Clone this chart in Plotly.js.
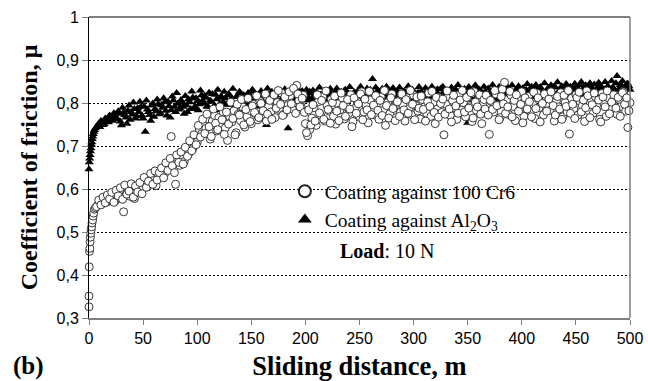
<!DOCTYPE html>
<html>
<head>
<meta charset="utf-8">
<script src="https://cdn.plot.ly/plotly-3.0.1.min.js"></script>
<style>html,body{margin:0;padding:0;background:#fff;}#chart{width:648px;height:381px;}</style>
</head>
<body>
<div id="chart"></div>
<script>
// ---- data ----
// dense readings at the start of the test (sliding distance in m, friction coefficient)
const cr6StartDist = [0, 0, 0.2, 0.5, 0.8, 1.0, 1.3, 1.6, 2.0, 2.4, 2.8, 3.3, 3.8, 4.3, 5.0];
const cr6StartMu   = [0.326, 0.351, 0.419, 0.455, 0.462, 0.477, 0.488, 0.497, 0.505, 0.512, 0.521, 0.528, 0.537, 0.544, 0.553];
const al2o3StartDist = [0, 0.3, 0.6, 1.0, 1.4, 1.8, 2.2, 2.6, 3.0, 3.5, 4.0, 4.5, 5.0];
const al2o3StartMu   = [0.646, 0.662, 0.671, 0.679, 0.688, 0.695, 0.703, 0.709, 0.716, 0.722, 0.728, 0.733, 0.737];

// regular readings: even metres 6..500 and odd metres 7..499
const evenStart = 6, oddStart = 7, gridStep = 2;
const cr6MuEven = [
 0.556,0.562,0.571,0.566,0.578,0.569,0.583,0.575,0.588,0.572,
 0.591,0.579,0.595,0.547,0.586,0.601,0.583,0.598,0.578,0.604,
 0.596,0.611,0.602,0.619,0.605,0.624,0.613,0.629,0.608,0.633,
 0.628,0.641,0.636,0.652,0.647,0.722,0.659,0.611,0.668,0.655,
 0.672,0.664,0.688,0.681,0.701,0.694,0.718,0.709,0.737,0.728,
 0.752,0.741,0.763,0.716,0.758,0.771,0.735,0.766,0.748,0.779,
 0.742,0.713,0.768,0.756,0.782,0.731,0.774,0.759,0.791,0.744,
 0.768,0.783,0.752,0.797,0.775,0.761,0.804,0.771,0.788,0.758,
 0.792,0.779,0.812,0.766,0.801,0.785,0.823,0.774,0.809,0.795,
 0.817,0.786,0.828,0.841,0.806,0.792,0.818,0.752,0.724,0.738,
 0.765,0.789,0.748,0.803,0.772,0.815,0.758,0.794,0.781,0.808,
 0.769,0.751,0.798,0.784,0.812,0.763,0.791,0.776,0.819,0.757,
 0.788,0.803,0.768,0.826,0.779,0.795,0.754,0.807,0.786,0.772,
 0.799,0.762,0.814,0.783,0.748,0.801,0.775,0.821,0.791,0.766,
 0.805,0.779,0.796,0.758,0.812,0.787,0.773,0.818,0.794,0.781,
 0.763,0.808,0.791,0.776,0.823,0.769,0.801,0.752,0.786,0.812,
 0.778,0.726,0.797,0.815,0.771,0.806,0.789,0.762,0.819,0.784,
 0.801,0.768,0.812,0.791,0.757,0.826,0.783,0.809,0.774,0.798,
 0.786,0.814,0.727,0.803,0.779,0.821,0.795,0.766,0.832,0.848,
 0.807,0.773,0.818,0.792,0.759,0.811,0.784,0.826,0.769,0.802,
 0.815,0.781,0.797,0.764,0.823,0.789,0.808,0.772,0.816,0.794,
 0.783,0.812,0.758,0.805,0.791,0.824,0.768,0.801,0.779,0.728,
 0.811,0.786,0.819,0.772,0.803,0.794,0.757,0.828,0.782,0.809,
 0.776,0.815,0.791,0.762,0.822,0.798,0.769,0.812,0.785,0.804,
 0.818,0.774,0.808,0.792,0.826,0.781,0.743,0.801
];
const cr6MuOdd = [
 0.559,0.574,0.563,0.581,0.568,0.586,0.577,0.592,0.569,0.597,
 0.584,0.603,0.576,0.609,0.588,0.595,0.612,0.581,0.607,0.593,
 0.615,0.589,0.627,0.604,0.618,0.636,0.611,0.642,0.621,0.638,
 0.649,0.626,0.661,0.643,0.671,0.654,0.638,0.679,0.662,0.686,
 0.658,0.697,0.676,0.712,0.689,0.726,0.703,0.748,0.721,0.762,
 0.729,0.774,0.745,0.722,0.786,0.753,0.738,0.791,0.761,0.727,
 0.779,0.751,0.802,0.764,0.726,0.797,0.772,0.808,0.749,0.785,
 0.811,0.757,0.793,0.778,0.817,0.766,0.799,0.782,0.821,0.774,
 0.806,0.762,0.819,0.788,0.829,0.797,0.771,0.814,0.784,0.826,
 0.798,0.834,0.776,0.821,0.791,0.811,0.778,0.731,0.784,0.749,
 0.796,0.758,0.819,0.777,0.806,0.762,0.828,0.785,0.753,0.801,
 0.816,0.781,0.759,0.823,0.794,0.769,0.808,0.786,0.745,0.812,
 0.776,0.798,0.821,0.761,0.809,0.784,0.827,0.773,0.795,0.817,
 0.783,0.806,0.771,0.829,0.794,0.765,0.812,0.787,0.759,0.803,
 0.769,0.821,0.784,0.808,0.776,0.829,0.797,0.761,0.814,0.788,
 0.816,0.785,0.758,0.803,0.792,0.827,0.778,0.813,0.767,0.799,
 0.809,0.774,0.828,0.786,0.756,0.818,0.793,0.776,0.807,0.829,
 0.779,0.813,0.788,0.824,0.765,0.802,0.791,0.819,0.752,0.808,
 0.818,0.772,0.806,0.785,0.829,0.794,0.761,0.815,0.798,0.776,
 0.791,0.827,0.768,0.806,0.819,0.781,0.797,0.754,0.812,0.786,
 0.803,0.768,0.825,0.787,0.812,0.756,0.799,0.821,0.781,0.809,
 0.826,0.794,0.772,0.815,0.786,0.762,0.818,0.792,0.829,0.776,
 0.797,0.764,0.813,0.825,0.779,0.807,0.789,0.817,0.766,0.796,
 0.823,0.784,0.807,0.756,0.814,0.791,0.828,0.775,0.802,0.819,
 0.788,0.813,0.769,0.824,0.797,0.812,0.782
];
const al2o3MuEven = [
 0.741,0.748,0.744,0.756,0.751,0.762,0.755,0.768,0.759,0.771,
 0.763,0.775,0.748,0.778,0.766,0.782,0.761,0.773,0.786,0.769,
 0.779,0.791,0.764,0.733,0.785,0.772,0.794,0.768,0.781,0.797,
 0.776,0.789,0.802,0.771,0.793,0.784,0.806,0.779,0.798,0.788,
 0.801,0.775,0.795,0.809,0.786,0.813,0.792,0.804,0.797,0.818,
 0.799,0.812,0.791,0.806,0.821,0.795,0.809,0.784,0.815,0.802,
 0.811,0.796,0.818,0.805,0.789,0.814,0.801,0.823,0.797,0.808,
 0.816,0.799,0.811,0.826,0.803,0.792,0.815,0.806,0.821,0.749,
 0.808,0.819,0.801,0.813,0.796,0.824,0.809,0.817,0.803,0.741,
 0.812,0.821,0.806,0.818,0.829,0.811,0.823,0.807,0.815,0.826,
 0.809,0.817,0.824,0.805,0.819,0.812,0.828,0.803,0.816,0.822,
 0.811,0.825,0.807,0.818,0.813,0.829,0.806,0.821,0.815,0.809,
 0.823,0.812,0.818,0.827,0.808,0.819,0.814,0.831,0.856,0.811,
 0.817,0.824,0.809,0.821,0.813,0.828,0.806,0.819,0.825,0.811,
 0.822,0.815,0.808,0.826,0.812,0.819,0.831,0.807,0.818,0.824,
 0.813,0.821,0.809,0.827,0.816,0.811,0.823,0.818,0.832,0.806,
 0.819,0.825,0.812,0.817,0.829,0.809,0.821,0.814,0.826,0.818,
 0.811,0.823,0.754,0.829,0.807,0.821,0.836,0.813,0.824,0.818,
 0.826,0.812,0.821,0.817,0.831,0.809,0.824,0.819,0.828,0.814,
 0.821,0.834,0.816,0.823,0.811,0.829,0.818,0.826,0.813,0.831,
 0.819,0.827,0.814,0.836,0.822,0.817,0.829,0.811,0.824,0.833,
 0.818,0.826,0.839,0.821,0.815,0.831,0.824,0.819,0.837,0.827,
 0.822,0.834,0.818,0.829,0.841,0.825,0.819,0.832,0.826,0.838,
 0.828,0.821,0.835,0.843,0.826,0.832,0.819,0.838,0.829,0.836,
 0.824,0.863,0.833,0.841,0.827,0.836,0.845,0.831
];
const al2o3MuOdd = [
 0.745,0.752,0.758,0.749,0.764,0.757,0.771,0.762,0.776,0.766,
 0.781,0.757,0.789,0.772,0.752,0.794,0.779,0.801,0.764,0.788,
 0.803,0.771,0.792,0.806,0.779,0.759,0.799,0.786,0.808,0.774,
 0.795,0.811,0.782,0.803,0.766,0.815,0.791,0.823,0.785,0.807,
 0.791,0.816,0.779,0.802,0.827,0.788,0.811,0.783,0.829,0.806,
 0.817,0.792,0.824,0.803,0.789,0.819,0.831,0.798,0.812,0.826,
 0.797,0.821,0.809,0.833,0.791,0.815,0.826,0.804,0.818,0.794,
 0.823,0.808,0.831,0.797,0.819,0.812,0.828,0.801,0.816,0.834,
 0.803,0.826,0.814,0.795,0.829,0.818,0.807,0.832,0.799,0.821,
 0.826,0.809,0.834,0.817,0.802,0.828,0.815,0.831,0.806,0.822,
 0.829,0.811,0.823,0.836,0.814,0.801,0.827,0.818,0.833,0.808,
 0.821,0.834,0.812,0.826,0.803,0.831,0.819,0.837,0.811,0.825,
 0.816,0.829,0.838,0.807,0.823,0.834,0.812,0.827,0.819,0.836,
 0.829,0.808,0.833,0.821,0.838,0.811,0.826,0.835,0.815,0.828,
 0.836,0.812,0.827,0.819,0.839,0.806,0.831,0.823,0.814,0.837,
 0.827,0.818,0.835,0.809,0.829,0.838,0.816,0.826,0.811,0.833,
 0.838,0.814,0.829,0.822,0.836,0.808,0.831,0.842,0.817,0.826,
 0.833,0.819,0.837,0.811,0.828,0.841,0.816,0.831,0.823,0.838,
 0.815,0.834,0.826,0.842,0.812,0.829,0.837,0.821,0.839,0.818,
 0.836,0.824,0.841,0.817,0.832,0.839,0.821,0.835,0.828,0.844,
 0.826,0.838,0.819,0.842,0.831,0.837,0.824,0.846,0.829,0.835,
 0.841,0.823,0.836,0.848,0.829,0.839,0.821,0.844,0.833,0.838,
 0.829,0.845,0.836,0.823,0.849,0.834,0.841,0.827,0.846,0.832,
 0.843,0.831,0.847,0.836,0.825,0.849,0.838,0.832,0.851,0.834,
 0.846,0.829,0.842,0.851,0.836,0.844,0.839
];

const xTickVals = [0, 50, 100, 150, 200, 250, 300, 350, 400, 450, 500];
const xTickText = ['0', '50', '100', '150', '200', '250', '300', '350', '400', '450', '500'];
const yTickVals = [0.3, 0.4, 0.5, 0.6, 0.7, 0.8, 0.9, 1.0];
const yTickText = ['0,3', '0,4', '0,5', '0,6', '0,7', '0,8', '0,9', '1'];

const seriesNames = ['Coating against 100 Cr6', 'Coating against Al<sub>2</sub>O<sub>3</sub>'];

// ---- build ----
const gridDist = (arr, start) => arr.map((_, i) => start + i * gridStep);
const cr6X = cr6StartDist.concat(gridDist(cr6MuEven, evenStart), gridDist(cr6MuOdd, oddStart));
const cr6Y = cr6StartMu.concat(cr6MuEven, cr6MuOdd);
const alX = al2o3StartDist.concat(gridDist(al2o3MuEven, evenStart), gridDist(al2o3MuOdd, oddStart));
const alY = al2o3StartMu.concat(al2o3MuEven, al2o3MuOdd);

const serif = 'Liberation Serif, Times New Roman, serif';
const sans = 'Liberation Sans, Arial, sans-serif';

const traces = [
  {
    x: alX, y: alY, type: 'scatter', mode: 'markers', name: seriesNames[1],
    cliponaxis: false,
    marker: {symbol: 'triangle-up', size: 8, color: 'black', line: {width: 0}}
  },
  {
    x: cr6X, y: cr6Y, type: 'scatter', mode: 'markers', name: seriesNames[0],
    cliponaxis: false,
    marker: {symbol: 'circle', size: 8, color: 'white', line: {color: '#222', width: 0.9}}
  }
];

const layout = {
  width: 648, height: 381,
  margin: {l: 89, r: 18, t: 17, b: 63, pad: 0},
  paper_bgcolor: 'white', plot_bgcolor: 'white',
  showlegend: true,
  legend: {
    x: 0.362, y: 0.485, xanchor: 'left', yanchor: 'top',
    bgcolor: 'rgba(0,0,0,0)', borderwidth: 0,
    traceorder: 'reversed', itemsizing: 'constant',
    font: {family: serif, size: 19.5, color: 'black'}
  },
  xaxis: {
    range: [0, 500], tickvals: xTickVals, ticktext: xTickText,
    ticks: 'outside', ticklen: 5, tickcolor: '#808080', tickwidth: 1,
    showline: true, linecolor: '#808080', linewidth: 2,
    showgrid: false, zeroline: false,
    tickfont: {family: sans, size: 16, color: 'black'},
    title: {text: '<b>Sliding distance, m</b>', font: {family: serif, size: 26.5, color: 'black'}, standoff: 12}
  },
  yaxis: {
    range: [0.3, 1], tickvals: yTickVals, ticktext: yTickText,
    ticks: 'outside', ticklen: 6, tickcolor: '#808080', tickwidth: 1,
    showline: true, linecolor: 'black', linewidth: 1,
    showgrid: true, gridcolor: 'black', gridwidth: 1, griddash: '2px,2px',
    zeroline: false,
    tickfont: {family: sans, size: 16, color: 'black'},
    title: {text: '<b>Coefficient of friction, \u03bc</b>', font: {family: serif, size: 24, color: 'black'}, standoff: 12}
  },
  shapes: [
    {type: 'rect', xref: 'paper', yref: 'paper', x0: 0.383, x1: 0.834, y0: 0.255, y1: 0.49,
     fillcolor: 'white', line: {width: 0}, layer: 'between'},
    {type: 'line', xref: 'paper', yref: 'paper', x0: 0, x1: 1, y0: 1, y1: 1,
     line: {color: '#808080', width: 2}},
    {type: 'line', xref: 'paper', yref: 'paper', x0: 1, x1: 1, y0: 0, y1: 1,
     line: {color: '#808080', width: 1.5}}
  ],
  annotations: [
    {text: '<b>Load</b>: 10 N', xref: 'paper', yref: 'paper', x: 0.46, y: 0.222,
     xanchor: 'left', yanchor: 'middle', showarrow: false,
     font: {family: serif, size: 20, color: 'black'}},
    {text: '<b>(b)</b>', xref: 'paper', yref: 'paper', x: -0.145, y: -0.159,
     xanchor: 'left', yanchor: 'middle', showarrow: false,
     font: {family: serif, size: 25, color: 'black'}}
  ]
};

Plotly.newPlot('chart', traces, layout, {displayModeBar: false, staticPlot: true});
</script>
</body>
</html>
